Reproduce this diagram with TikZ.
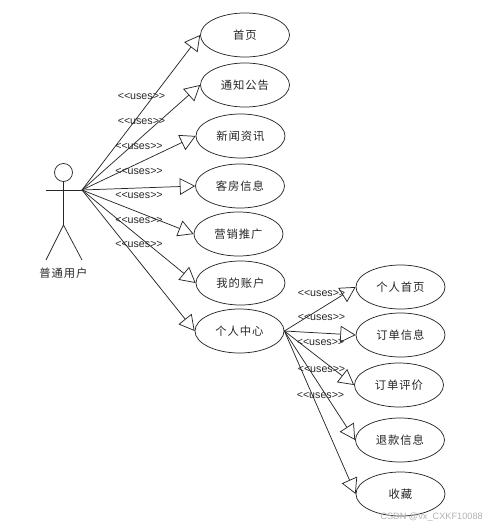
\documentclass[tikz,border=0pt]{standalone}
\usepackage{fontspec}
\setmainfont{Liberation Sans}
\newfontfamily\cjk{Noto Sans CJK SC}[LetterSpace=8]
\usetikzlibrary{shapes.geometric,arrows.meta}
\tikzset{
  usecase/.style={draw,ellipse,inner sep=0pt,minimum width=66.75pt,minimum height=33pt,font=\cjk\fontsize{8.5}{10}\selectfont},
  uses/.style={inner sep=0pt,font=\fontsize{8}{10}\selectfont},
  link/.style={-{Triangle[open,length=11.5pt,width=12.5pt]}},
}
\newcommand{\useslabel}{<{}<uses>{}>}
\begin{document}
\begin{tikzpicture}[x=.75pt,y=-.75pt,line width=.55pt,color=black!85]
\useasboundingbox (0,0) rectangle (485,529);
% actor
\node[draw,circle,inner sep=0pt,minimum size=13.5pt] (head) at (63.5,172.5) {};
\coordinate (hip) at (63.5,225);
\coordinate (handl) at (46,190);
\coordinate (handr) at (82,190);
\coordinate (footl) at (46,260);
\coordinate (footr) at (82,260);
\draw (head.south)--(hip);
\draw (handl)--(handr);
\draw (footl)--(hip)--(footr);
\node[font=\cjk\fontsize{8.5}{10}\selectfont] (user) at (63.5,273.5) {普通用户};
% left column
\node[usecase] (home) at (245,35) {首页};
\node[usecase] (notice) at (245,85) {通知公告};
\node[usecase] (news) at (240.5,136) {新闻资讯};
\node[usecase] (room) at (240,186) {客房信息};
\node[usecase] (promo) at (238.5,234) {营销推广};
\node[usecase] (account) at (240.5,283) {我的账户};
\node[usecase] (center) at (239.5,331) {个人中心};
% right column
\node[usecase] (phome) at (400.5,287) {个人首页};
\node[usecase] (orders) at (400.5,335) {订单信息};
\node[usecase] (review) at (399,385) {订单评价};
\node[usecase] (refund) at (400,440) {退款信息};
\node[usecase] (fav) at (400.5,494) {收藏};
\foreach \to in {home,notice,news,room,promo,account,center}
  \draw[link] (handr)--(\to.west);
\foreach \to in {phome,orders,review,refund,fav}
  \draw[link] (center.east)--(\to.west);
% labels
\node[uses] (u1) at (141.5,96) {\useslabel};
\node[uses] (u2) at (141.5,121) {\useslabel};
\node[uses] (u3) at (139,146) {\useslabel};
\node[uses] (u4) at (139,171) {\useslabel};
\node[uses] (u5) at (139,195) {\useslabel};
\node[uses] (u6) at (139,220) {\useslabel};
\node[uses] (u7) at (139,244) {\useslabel};
\node[uses] (u8) at (321.5,293) {\useslabel};
\node[uses] (u9) at (321.5,317) {\useslabel};
\node[uses] (u10) at (320.5,342) {\useslabel};
\node[uses] (u11) at (321.5,369) {\useslabel};
\node[uses] (u12) at (320.5,395) {\useslabel};
\node[anchor=west,inner sep=0pt,text=black!30,font=\fontsize{6.9}{9}\selectfont] (mark) at (380,517) {CSDN @vx\_CXKF10088};
\end{tikzpicture}
\end{document}
